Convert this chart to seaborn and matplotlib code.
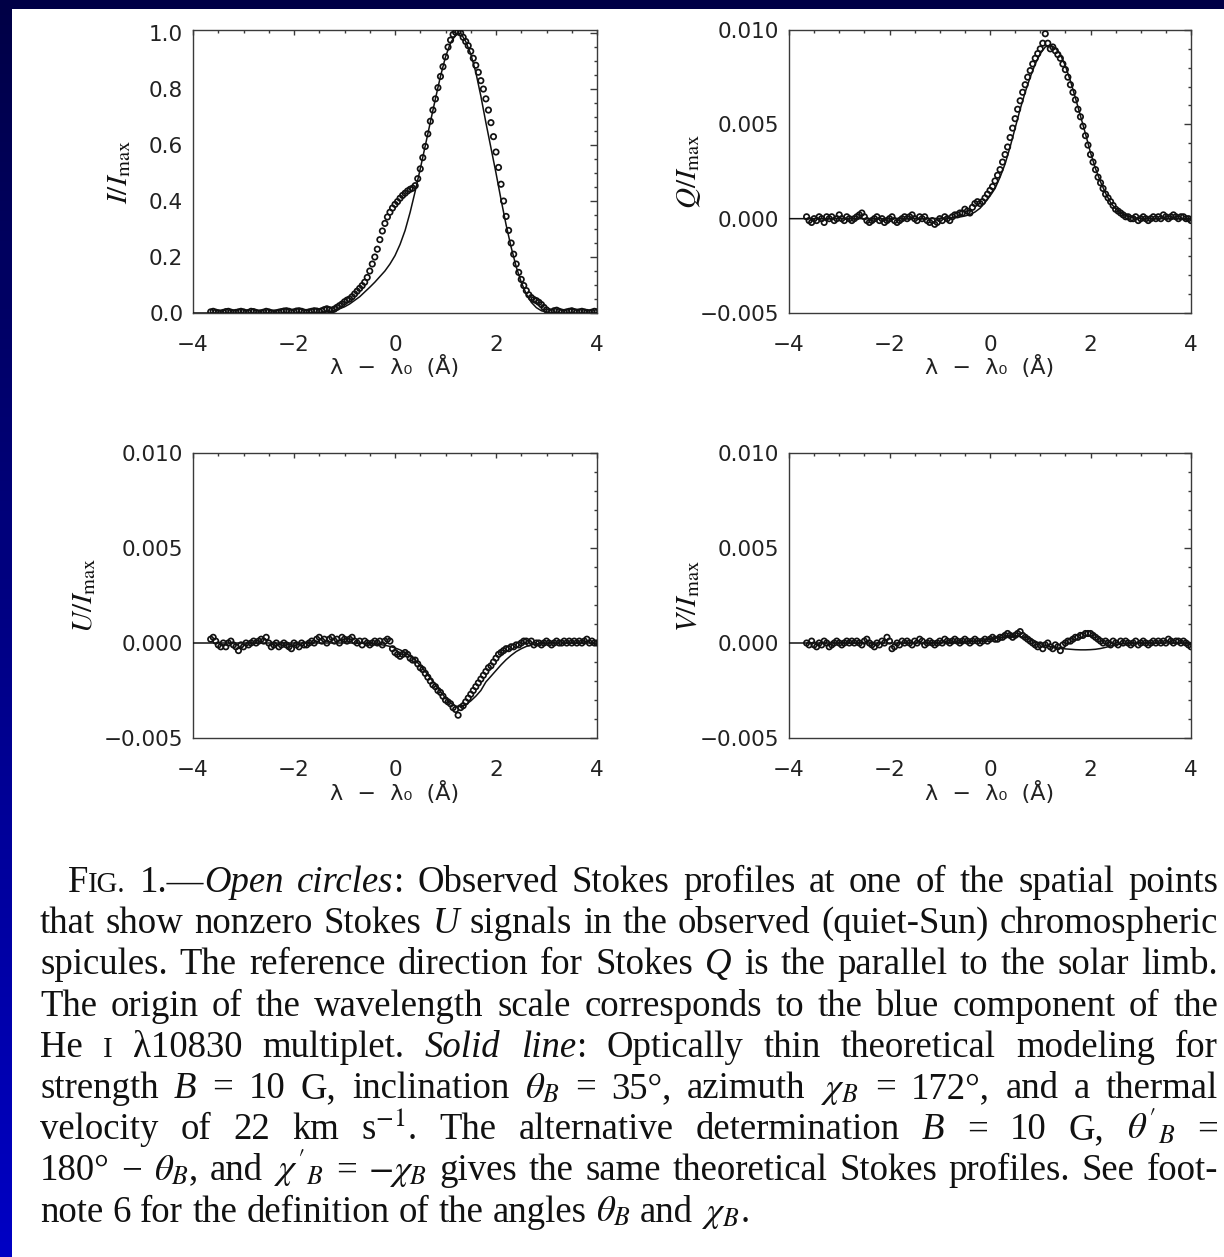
import re
import numpy as np
import pandas as pd
import matplotlib
matplotlib.use("Agg")
import matplotlib.pyplot as plt
import seaborn as sns
from matplotlib.patches import Rectangle
from matplotlib.colors import LinearSegmentedColormap
from matplotlib.ticker import MultipleLocator, FuncFormatter

W, H, DPI = 1224, 1257, 100

# Wavelength sampling (Å from the blue component): observations every 0.05 Å, model every 0.1 Å
OBS_LAMBDA = np.round(np.linspace(-3.65, 4.00, 154), 2)
MOD_LAMBDA = np.round(np.linspace(-4.0, 4.0, 81), 1)

# Stokes I / I_max, observed (rows of ten samples, starting at -3.65, -3.15, ...)
I_OBS = [
    0.004, 0.006, 0.003, 0.001, 0.000, 0.002, 0.005, 0.006, 0.003, 0.001,
    0.002, 0.004, 0.006, 0.004, 0.001, 0.002, 0.006, 0.005, 0.002, 0.000,
    0.001, 0.003, 0.006, 0.004, 0.001, 0.000, 0.001, 0.003, 0.005, 0.007,
    0.008, 0.006, 0.003, 0.004, 0.007, 0.008, 0.006, 0.003, 0.002, 0.004,
    0.006, 0.008, 0.007, 0.005, 0.008, 0.012, 0.015, 0.012, 0.010, 0.014,
    0.020, 0.026, 0.032, 0.040, 0.046, 0.050, 0.058, 0.068, 0.078, 0.088,
    0.098, 0.110, 0.127, 0.150, 0.175, 0.200, 0.228, 0.262, 0.293, 0.320,
    0.343, 0.360, 0.375, 0.388, 0.398, 0.410, 0.420, 0.428, 0.436, 0.442,
    0.446, 0.455, 0.480, 0.515, 0.555, 0.595, 0.640, 0.685, 0.725, 0.765,
    0.805, 0.845, 0.880, 0.915, 0.950, 0.975, 0.995, 1.003, 1.005, 1.000,
    0.985, 0.970, 0.955, 0.935, 0.910, 0.885, 0.860, 0.830, 0.800, 0.765,
    0.725, 0.680, 0.630, 0.575, 0.520, 0.460, 0.400, 0.345, 0.295, 0.250,
    0.210, 0.175, 0.145, 0.120, 0.098, 0.080, 0.065, 0.055, 0.048, 0.044,
    0.038, 0.030, 0.020, 0.011, 0.005, 0.003, 0.008, 0.010, 0.006, 0.003,
    0.002, 0.004, 0.006, 0.008, 0.005, 0.003, 0.004, 0.006, 0.004, 0.002,
    0.001, 0.003, 0.006, 0.004,
]

# Stokes I / I_max, optically thin model (rows of ten, starting at -4, -3, ...)
I_MOD = [
    0.000, 0.000, 0.000, 0.000, 0.000, 0.000, 0.000, 0.000, 0.000, 0.000,
    0.000, 0.000, 0.000, 0.000, 0.000, 0.000, 0.000, 0.000, 0.000, 0.000,
    0.000, 0.000, 0.000, 0.001, 0.001, 0.002, 0.003, 0.005, 0.010, 0.015,
    0.022, 0.032, 0.045, 0.058, 0.075, 0.092, 0.110, 0.130, 0.150, 0.175,
    0.205, 0.245, 0.295, 0.360, 0.435, 0.515, 0.598, 0.682, 0.765, 0.845,
    0.915, 0.965, 0.993, 1.000, 0.970, 0.925, 0.860, 0.775, 0.680, 0.590,
    0.500, 0.405, 0.315, 0.235, 0.165, 0.110, 0.068, 0.038, 0.019, 0.008,
    0.003, 0.000, 0.000, 0.000, 0.000, 0.000, 0.000, 0.000, 0.000, 0.000,
    0.000,
]

# Polarization profiles below are given in units of 1e-3 I_max
POL_UNIT = 1e-3

Q_OBS = [
    0.1, -0.1, -0.2, 0.0, -0.1, 0.1, 0.0, -0.2, 0.1, 0.0,
    0.1, -0.1, 0.0, 0.2, 0.0, -0.1, 0.1, 0.0, -0.1, 0.0,
    0.1, 0.2, 0.3, 0.1, -0.1, -0.2, -0.1, 0.0, 0.1, -0.1,
    0.0, -0.2, -0.1, 0.0, 0.1, -0.1, -0.2, -0.1, 0.0, 0.1,
    0.0, 0.1, 0.2, 0.0, -0.1, 0.1, 0.0, 0.1, -0.1, -0.2,
    -0.1, -0.3, -0.2, 0.0, -0.1, 0.1, 0.0, -0.1, 0.1, 0.2,
    0.2, 0.3, 0.3, 0.5, 0.4, 0.3, 0.6, 0.8, 0.9, 0.8,
    0.9, 1.1, 1.3, 1.5, 1.7, 2.0, 2.3, 2.6, 3.0, 3.4,
    3.8, 4.3, 4.8, 5.3, 5.8, 6.25, 6.7, 7.1, 7.5, 7.85,
    8.2, 8.5, 8.75, 9.0, 9.3, 9.8, 9.3, 9.0, 9.1, 8.9,
    8.7, 8.5, 8.2, 7.9, 7.5, 7.1, 6.7, 6.3, 5.8, 5.4,
    4.9, 4.4, 3.9, 3.4, 3.0, 2.6, 2.2, 1.9, 1.6, 1.3,
    1.1, 0.9, 0.7, 0.5, 0.4, 0.3, 0.2, 0.1, 0.1, 0.0,
    0.0, 0.1, -0.1, 0.0, 0.1, 0.0, -0.1, 0.0, 0.1, 0.0,
    0.1, 0.0, 0.2, 0.1, 0.0, 0.1, 0.2, 0.1, 0.0, 0.1,
    0.1, 0.0, 0.0, -0.1,
]

Q_MOD = [
    0.00, 0.00, 0.00, 0.00, 0.00, 0.00, 0.00, 0.00, 0.00, 0.00,
    0.00, 0.00, 0.00, 0.00, 0.00, 0.00, 0.00, 0.00, 0.00, 0.00,
    0.00, 0.00, 0.00, 0.00, 0.00, 0.00, 0.00, 0.00, 0.00, 0.01,
    0.02, 0.03, 0.04, 0.06, 0.09, 0.14, 0.22, 0.35, 0.55, 0.85,
    1.20, 1.60, 2.20, 2.90, 3.80, 4.80, 5.80, 6.70, 7.50, 8.20,
    8.75, 9.10, 9.20, 9.05, 8.70, 8.10, 7.30, 6.40, 5.45, 4.50,
    3.50, 2.65, 1.95, 1.35, 0.85, 0.52, 0.30, 0.16, 0.08, 0.03,
    0.02, 0.01, 0.00, 0.00, 0.00, 0.00, 0.00, 0.00, 0.00, 0.00,
    0.00,
]

U_OBS = [
    0.2, 0.3, 0.1, -0.1, -0.2, 0.0, -0.2, 0.0, 0.1, -0.1,
    -0.2, -0.4, -0.1, -0.2, 0.0, -0.1, 0.0, 0.1, 0.0, 0.1,
    0.2, 0.1, 0.3, 0.0, -0.2, -0.1, 0.0, -0.2, -0.1, 0.0,
    -0.1, -0.2, -0.3, 0.0, -0.1, -0.2, 0.0, -0.1, -0.1, 0.0,
    0.1, 0.0, 0.2, 0.3, 0.1, 0.2, 0.0, 0.2, 0.3, 0.1,
    0.2, 0.0, 0.3, 0.2, 0.1, 0.2, 0.3, 0.1, 0.0, 0.1,
    -0.1, 0.1, 0.0, -0.1, 0.0, 0.1, 0.0, 0.1, -0.1, 0.1,
    0.2, 0.1, -0.3, -0.5, -0.6, -0.7, -0.6, -0.5, -0.6, -0.8,
    -0.9, -0.9, -1.1, -1.3, -1.4, -1.6, -1.8, -2.0, -2.2, -2.3,
    -2.5, -2.6, -2.8, -3.0, -3.1, -3.2, -3.4, -3.5, -3.8, -3.4,
    -3.3, -3.1, -2.9, -2.7, -2.5, -2.3, -2.1, -1.9, -1.7, -1.5,
    -1.3, -1.2, -1.0, -0.8, -0.6, -0.5, -0.4, -0.3, -0.3, -0.2,
    -0.2, -0.1, -0.1, 0.0, 0.1, 0.1, 0.0, 0.1, -0.1, 0.0,
    0.0, -0.1, 0.0, 0.1, 0.0, -0.1, 0.0, 0.1, 0.0, 0.0,
    0.1, 0.0, 0.1, 0.0, 0.1, 0.0, 0.1, 0.0, 0.1, 0.2,
    0.0, 0.1, 0.0, 0.0,
]

U_MOD = [
    0.00, 0.00, 0.00, 0.00, 0.00, 0.00, 0.00, 0.00, 0.00, 0.00,
    0.00, 0.00, 0.00, 0.00, 0.00, 0.00, 0.00, 0.00, 0.00, 0.00,
    0.00, 0.00, 0.00, 0.00, 0.00, 0.00, 0.00, 0.00, 0.00, 0.00,
    0.00, 0.00, 0.00, -0.01, -0.02, -0.03, -0.05, -0.08, -0.12, -0.18,
    -0.26, -0.36, -0.50, -0.68, -0.90, -1.18, -1.50, -1.85, -2.20, -2.55,
    -2.90, -3.15, -3.32, -3.35, -3.25, -3.05, -2.80, -2.50, -2.05, -1.75,
    -1.45, -1.15, -0.88, -0.65, -0.45, -0.30, -0.18, -0.10, -0.05, -0.02,
    -0.01, 0.00, 0.00, 0.00, 0.00, 0.00, 0.00, 0.00, 0.00, 0.00,
    0.00,
]

V_OBS = [
    0.0, -0.1, 0.1, -0.1, -0.2, 0.0, -0.1, 0.1, 0.0, -0.2,
    -0.1, 0.0, 0.1, 0.0, -0.1, 0.0, 0.1, 0.0, 0.1, 0.0,
    0.1, 0.0, -0.1, 0.1, 0.2, 0.0, -0.1, -0.2, 0.0, -0.1,
    0.1, 0.0, 0.3, 0.1, -0.3, -0.2, 0.0, -0.1, 0.1, 0.0,
    0.1, 0.0, -0.1, 0.1, 0.0, 0.2, 0.1, -0.1, 0.0, 0.1,
    0.0, -0.1, 0.0, 0.1, 0.0, 0.2, 0.1, 0.0, 0.1, 0.2,
    0.1, 0.0, 0.1, 0.2, 0.1, 0.0, 0.1, 0.2, 0.1, 0.0,
    0.1, 0.2, 0.1, 0.2, 0.3, 0.2, 0.2, 0.3, 0.3, 0.4,
    0.5, 0.4, 0.3, 0.4, 0.5, 0.6, 0.4, 0.3, 0.2, 0.1,
    0.0, -0.1, -0.2, -0.1, -0.3, -0.1, 0.0, -0.2, -0.3, -0.1,
    -0.2, -0.4, -0.1, 0.0, 0.1, 0.1, 0.2, 0.3, 0.3, 0.4,
    0.4, 0.5, 0.5, 0.5, 0.4, 0.3, 0.2, 0.1, 0.0, 0.1,
    0.0, -0.1, 0.1, 0.0, -0.1, 0.1, 0.0, 0.1, 0.0, -0.1,
    0.0, 0.1, -0.1, 0.0, 0.1, 0.0, -0.1, 0.0, 0.1, 0.0,
    0.1, 0.0, 0.1, 0.0, 0.2, 0.1, 0.0, 0.1, 0.1, 0.0,
    0.1, 0.0, -0.1, -0.2,
]

V_MOD = [
    0.00, 0.00, 0.00, 0.00, 0.00, 0.00, 0.00, 0.00, 0.00, 0.00,
    0.00, 0.00, 0.00, 0.00, 0.00, 0.00, 0.00, 0.00, 0.00, 0.00,
    0.00, 0.00, 0.00, 0.00, 0.00, 0.00, 0.00, 0.00, 0.00, 0.00,
    0.00, 0.01, 0.01, 0.02, 0.03, 0.05, 0.07, 0.10, 0.13, 0.17,
    0.21, 0.25, 0.29, 0.32, 0.34, 0.35, 0.34, 0.30, 0.22, 0.10,
    -0.03, -0.13, -0.20, -0.25, -0.28, -0.31, -0.33, -0.35, -0.36, -0.36,
    -0.35, -0.33, -0.29, -0.23, -0.16, -0.10, -0.06, -0.03, -0.01, 0.00,
    0.00, 0.00, 0.00, 0.00, 0.00, 0.00, 0.00, 0.00, 0.00, 0.00,
    0.00,
]

X_LABEL = "λ  −  λ₀  (Å)"

CAPTION = [
    "F~IG.~ 1.—*Open* *circles*: Observed Stokes profiles at one of the spatial points",
    "that show nonzero Stokes *U* signals in the observed (quiet-Sun) chromospheric",
    "spicules. The reference direction for Stokes *Q* is the parallel to the solar limb.",
    "The origin of the wavelength scale corresponds to the blue component of the",
    "He ~I~ λ10830 multiplet. *Solid* *line*: Optically thin theoretical modeling for",
    r"strength *B* = 10 G, inclination $\theta_B$ = 35°, azimuth $\chi_B$ = 172°, and a thermal",
    r"velocity of 22 km s$^{-1}$. The alternative determination *B* = 10 G, $\theta'_B$ =",
    r"180° − $\theta_B$, and $\chi'_B$ = $-\chi_B$ gives the same theoretical Stokes profiles. See foot-",
    r"note 6 for the definition of the angles $\theta_B$ and $\chi_B$.",
]

# ---------------------------------------------------------------- style
sns.set_theme(style="white")
plt.rcParams.update({
    "font.family": ["DejaVu Sans"],
    "mathtext.fontset": "stix",
    "axes.edgecolor": "#3a3a3a",
    "axes.linewidth": 1.0,
    "axes.facecolor": "white",
    "xtick.color": "#3a3a3a",
    "ytick.color": "#3a3a3a",
    "xtick.labelcolor": "#222222",
    "ytick.labelcolor": "#222222",
})

fig = plt.figure(figsize=(W / DPI, H / DPI), dpi=DPI)

# page background: dark-to-bright blue frame with a white sheet
bg = fig.add_axes([0, 0, 1, 1], zorder=0)
frame_cmap = LinearSegmentedColormap.from_list("frame", ["#000046", "#0000c4"])
bg.imshow(np.linspace(0, 1, 256).reshape(-1, 1), extent=(0, W, H, 0),
          aspect="auto", cmap=frame_cmap, vmin=0, vmax=1)
bg.add_patch(Rectangle((12, 9), W - 12, H - 9, facecolor="white", edgecolor="none"))
bg.set_xlim(0, W)
bg.set_ylim(H, 0)
bg.axis("off")


def minus_fmt(decimals):
    def f(v, pos):
        if abs(v) < 1e-12:
            v = 0.0
        return f"{v:.{decimals}f}".replace("-", "\u2212")
    return FuncFormatter(f)


PANELS = [
    dict(obs=I_OBS, mod=I_MOD, unit=1.0, box=(193, 30, 597, 313), ylim=(0.0, 1.011),
         major=0.2, minor=0.05, dec=1, label=r"$I/I_{\mathrm{max}}$", lab_x=-0.148),
    dict(obs=Q_OBS, mod=Q_MOD, unit=POL_UNIT, box=(789, 30, 1191, 313), ylim=(-0.005, 0.010),
         major=0.005, minor=0.001, dec=3, label=r"$Q/I_{\mathrm{max}}$", lab_x=-0.215),
    dict(obs=U_OBS, mod=U_MOD, unit=POL_UNIT, box=(193, 453, 597, 738), ylim=(-0.005, 0.010),
         major=0.005, minor=0.001, dec=3, label=r"$U/I_{\mathrm{max}}$", lab_x=-0.235),
    dict(obs=V_OBS, mod=V_MOD, unit=POL_UNIT, box=(789, 453, 1191, 738), ylim=(-0.005, 0.010),
         major=0.005, minor=0.001, dec=3, label=r"$V/I_{\mathrm{max}}$", lab_x=-0.215),
]

for p in PANELS:
    x0, y0, x1, y1 = p["box"]
    ax = fig.add_axes([x0 / W, 1 - y1 / H, (x1 - x0) / W, (y1 - y0) / H], zorder=2)
    ax.set_facecolor("white")

    obs = pd.DataFrame({"lam": OBS_LAMBDA, "val": np.asarray(p["obs"]) * p["unit"]})
    mod = pd.DataFrame({"lam": MOD_LAMBDA, "val": np.asarray(p["mod"]) * p["unit"]})

    sns.scatterplot(data=obs, x="lam", y="val", ax=ax, marker="o", s=15,
                    linewidth=1.25, legend=False, zorder=3)
    pts = ax.collections[-1]
    pts.set_facecolor("none")
    pts.set_edgecolor("#111111")
    sns.lineplot(data=mod, x="lam", y="val", ax=ax, color="#111111", linewidth=1.1,
                 estimator=None, sort=False, legend=False, zorder=4)

    ax.set_xlim(-4, 4)
    ax.set_ylim(*p["ylim"])
    ax.xaxis.set_major_locator(MultipleLocator(2))
    ax.xaxis.set_minor_locator(MultipleLocator(0.5))
    ax.yaxis.set_major_locator(MultipleLocator(p["major"]))
    ax.yaxis.set_minor_locator(MultipleLocator(p["minor"]))
    ax.xaxis.set_major_formatter(minus_fmt(0))
    ax.yaxis.set_major_formatter(minus_fmt(p["dec"]))
    for s in ax.spines.values():
        s.set_visible(True)
    ax.tick_params(axis="both", which="both", direction="in", top=True, right=True,
                   width=1.0, labelsize=15.5)
    ax.tick_params(axis="x", which="major", length=3.8, pad=16)
    ax.tick_params(axis="x", which="minor", length=2.2)
    ax.tick_params(axis="y", which="major", length=5.0, pad=7)
    ax.tick_params(axis="y", which="minor", length=2.5)

    ax.set_xlabel(X_LABEL, fontsize=16, color="#222222")
    ax.xaxis.set_label_coords(0.5, -0.150)
    ax.set_ylabel(p["label"], fontsize=21, color="#111111")
    ax.yaxis.set_label_coords(p["lab_x"], 0.5)

# ---------------------------------------------------------------- caption
CAP_FS = 26.5           # points
CAP_LEFT, CAP_INDENT, CAP_RIGHT = 40, 68, 1218
CAP_BASE, CAP_LEAD = 892, 41.2

renderer = fig.canvas.get_renderer()
seg_re = re.compile(r"\*[^*]+\*|~[^~]+~|[^*~]+")
for k, line in enumerate(CAPTION):
    y = CAP_BASE + k * CAP_LEAD
    left = CAP_INDENT if k == 0 else CAP_LEFT
    words = []
    for word in line.split(" "):
        arts = []
        for seg in seg_re.findall(word):
            kw = dict(fontfamily="Liberation Serif", color="#111111", ha="left",
                      va="baseline", fontsize=CAP_FS)
            if seg.startswith("*"):
                seg, kw["fontstyle"] = seg[1:-1], "italic"
            elif seg.startswith("~"):
                seg, kw["fontsize"] = seg[1:-1], CAP_FS * 0.78
            arts.append(bg.text(0, y, seg, **kw))
        words.append(arts)
    widths = [[t.get_window_extent(renderer).width for t in arts] for arts in words]
    total = sum(sum(ws) for ws in widths)
    if k == len(CAPTION) - 1:
        gap = 0.25 * CAP_FS * DPI / 72
    else:
        gap = (CAP_RIGHT - left - total) / (len(words) - 1)
    x = left
    for arts, ws in zip(words, widths):
        for t, wd in zip(arts, ws):
            t.set_x(x)
            x += wd
        x += gap

fig.savefig("out.png", dpi=DPI)
